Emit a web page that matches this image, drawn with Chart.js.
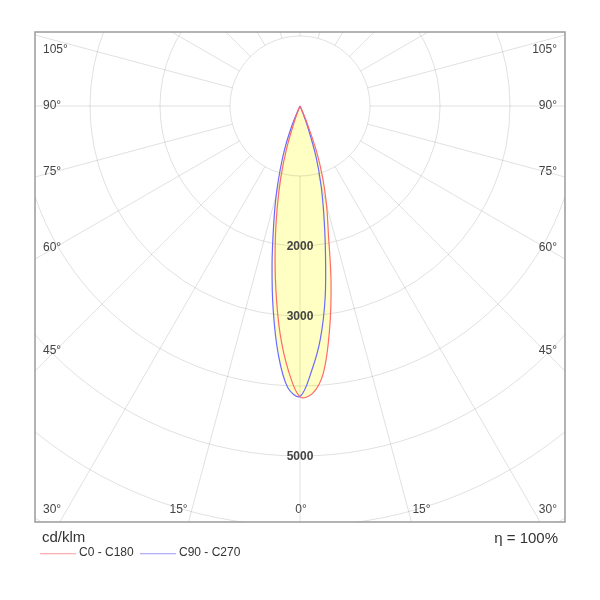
<!DOCTYPE html>
<html>
<head>
<meta charset="utf-8">
<script src="https://cdn.jsdelivr.net/npm/chart.js@4.4.0/dist/chart.umd.min.js"></script>
<style>
  html, body { margin: 0; background: #fff; }
  #wrap { width: 600px; height: 600px; }
</style>
</head>
<body>
<div id="wrap"><canvas id="ldc"></canvas></div>
<script>
// Gamma angles (degrees from nadir) and luminous intensity in cd/klm.
const gammaAngles = [0, 2.5, 5, 7.5, 10, 12.5, 15, 17.5, 20, 22.5, 25, 30, 45, 60, 75, 90];
const c0   = [4155, 4110, 3830, 3230, 2555, 1875, 1465, 1080, 690, 260, 50, 0, 0, 0, 0, 0];
const c180 = [4155, 3785, 3265, 2640, 2045, 1515, 1060, 635, 230, 40, 0, 0, 0, 0, 0, 0];
const c90  = [4150, 3790, 3340, 2755, 2090, 1565, 1150, 760, 350, 90, 0, 0, 0, 0, 0, 0];
const c270 = [4150, 4025, 3560, 2935, 2300, 1740, 1310, 925, 600, 290, 60, 0, 0, 0, 0, 0];

const seriesNames = ['C0 - C180', 'C90 - C270'];
const seriesColors = ['#ff6a6a', '#6a6aff'];
const legendColors = ['#ffb0b0', '#b0b0ff'];
const ringValues = [1000, 2000, 3000, 4000, 5000, 6000, 7000];
const ringLabels = [2000, 3000, 5000];
const angleLabels = [0, 15, 30, 45, 60, 75, 90, 105];
const unitText = 'cd/klm';
const efficiencyText = 'η = 100%';

const FONT = '"Liberation Sans", Arial, sans-serif';

function toXY(gamma, value) {
    const a = gamma * Math.PI / 180;
    return { x: value * Math.sin(a), y: -value * Math.cos(a) };
}

// left half runs 90 -> 0 (negative x), right half 0 -> 90
function curve(left, right) {
    const pts = [];
    for (let i = gammaAngles.length - 1; i > 0; i--) pts.push(toXY(-gammaAngles[i], left[i]));
    for (let i = 0; i < gammaAngles.length; i++) pts.push(toXY(gammaAngles[i], right[i]));
    return pts;
}

const polarGrid = {
    id: 'polarGrid',
    beforeDatasetsDraw(chart) {
        const { ctx, chartArea: area, scales: { x, y } } = chart;
        const cx = x.getPixelForValue(0);
        const cy = y.getPixelForValue(0);
        const rad = (v) => x.getPixelForValue(v) - cx;

        ctx.save();
        ctx.beginPath();
        ctx.rect(area.left, area.top, area.width, area.height);
        ctx.clip();
        ctx.strokeStyle = 'rgba(0, 0, 0, 0.12)';
        ctx.lineWidth = 1;

        ringValues.forEach((v) => {
            ctx.beginPath();
            ctx.arc(cx, cy, rad(v), 0, Math.PI * 2);
            ctx.stroke();
        });

        const r0 = rad(ringValues[0]);
        const r1 = rad(ringValues[ringValues.length - 1] + 3000);
        for (let g = 0; g < 360; g += 15) {
            const t = g * Math.PI / 180;
            const sx = Math.sin(t), sy = Math.cos(t);
            ctx.beginPath();
            ctx.moveTo(cx + r0 * sx, cy + r0 * sy);
            ctx.lineTo(cx + r1 * sx, cy + r1 * sy);
            ctx.stroke();
        }
        ctx.restore();
    },
    afterDraw(chart) {
        const { ctx, chartArea: area, scales: { x, y } } = chart;
        const cx = x.getPixelForValue(0);
        const cy = y.getPixelForValue(0);

        ctx.save();
        // frame
        ctx.strokeStyle = '#9a9a9a';
        ctx.lineWidth = 1.5;
        ctx.strokeRect(area.left, area.top, area.width, area.height);

        // intensity labels on the nadir axis
        ctx.fillStyle = '#444';
        ctx.font = 'bold 12px ' + FONT;
        ctx.textAlign = 'center';
        ctx.textBaseline = 'middle';
        ringLabels.forEach((v) => {
            ctx.fillText(String(v), cx, y.getPixelForValue(-v) + 1);
        });

        // angle labels
        ctx.font = '12px ' + FONT;
        ctx.fillStyle = '#444';
        const topY = area.top + 18;
        const botY = area.bottom - 12;
        angleLabels.forEach((g) => {
            [-1, 1].forEach((side) => {
                if (g === 0 && side < 0) return;
                const t = g * Math.PI / 180;
                const text = g + '°';
                if (g <= 15) {
                    const hitX = cx + side * (area.bottom - cy) * Math.tan(t);
                    ctx.textAlign = 'center';
                    ctx.fillText(text, hitX + (g === 0 ? 1 : side * 10), botY);
                } else {
                    const half = (side < 0 ? cx - area.left : area.right - cx) - 20;
                    let yy = cy + half / Math.tan(t);
                    yy = Math.min(Math.max(yy, topY), botY);
                    ctx.textAlign = side < 0 ? 'left' : 'right';
                    ctx.fillText(text, side < 0 ? area.left + 8 : area.right - 8, yy);
                }
            });
        });

        // unit, efficiency, legend
        ctx.fillStyle = '#333';
        ctx.font = '15px ' + FONT;
        ctx.textAlign = 'left';
        ctx.fillText(unitText, area.left + 7, area.bottom + 16);
        ctx.textAlign = 'right';
        ctx.fillText(efficiencyText, area.right - 7, area.bottom + 17);

        ctx.font = '12px ' + FONT;
        ctx.textAlign = 'left';
        const ly = area.bottom + 31;
        seriesNames.forEach((name, i) => {
            const lx = area.left + 5 + i * 100;
            ctx.fillStyle = legendColors[i];
            ctx.fillRect(lx, ly, 36, 1.3);
            ctx.fillStyle = '#333';
            ctx.fillText(name, lx + 39, ly);
        });
        ctx.restore();
    },
};

// 70 px per 1000 cd/klm, pole at (300, 106) on the page
const PX_PER_UNIT = 0.07;
const AREA = { left: 35, right: 565, top: 32, bottom: 522 };
const POLE = { x: 300, y: 106 };

new Chart(document.getElementById('ldc'), {
    type: 'scatter',
    data: {
        datasets: [
            { label: seriesNames[0], data: curve(c180, c0), borderColor: seriesColors[0] },
            { label: seriesNames[1], data: curve(c270, c90), borderColor: seriesColors[1] },
        ].map((ds) => ({
            ...ds,
            backgroundColor: '#ffffc4',
            showLine: true,
            fill: 'shape',
            borderWidth: 1.2,
            tension: 0.35,
            pointRadius: 0,
            pointHoverRadius: 0,
        })),
    },
    options: {
        responsive: true,
        maintainAspectRatio: false,
        animation: false,
        events: [],
        layout: {
            padding: { left: AREA.left, right: 600 - AREA.right, top: AREA.top, bottom: 600 - AREA.bottom },
        },
        scales: {
            x: {
                type: 'linear',
                display: false,
                min: -(POLE.x - AREA.left) / PX_PER_UNIT,
                max: (AREA.right - POLE.x) / PX_PER_UNIT,
            },
            y: {
                type: 'linear',
                display: false,
                min: -(AREA.bottom - POLE.y) / PX_PER_UNIT,
                max: (POLE.y - AREA.top) / PX_PER_UNIT,
            },
        },
        plugins: {
            legend: { display: false },
            tooltip: { enabled: false },
            filler: { drawTime: 'beforeDatasetsDraw' },
        },
    },
    plugins: [polarGrid],
});
</script>
</body>
</html>
